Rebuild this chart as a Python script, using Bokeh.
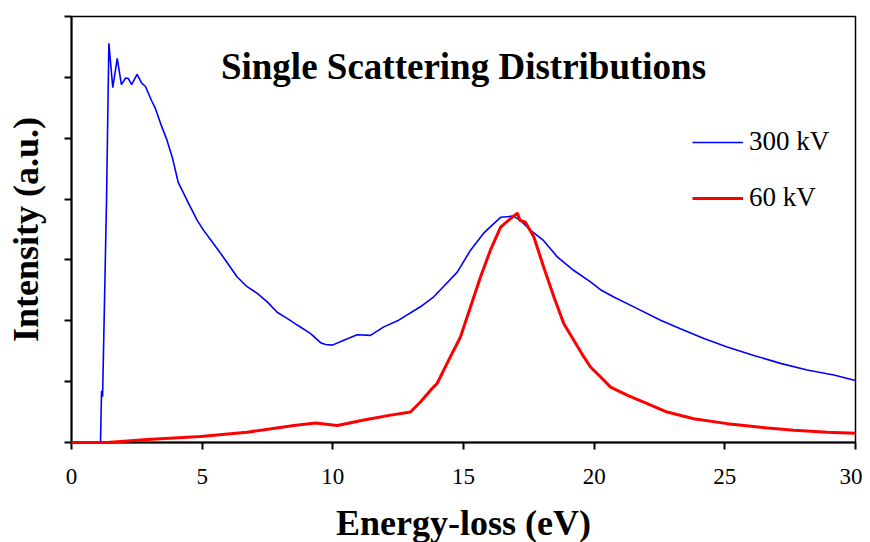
from bokeh.plotting import figure
from bokeh.models import Range1d, FixedTicker, Legend, LegendItem, Label
from bokeh.embed import file_html
from bokeh.resources import INLINE

# Energy-loss (eV) and intensity (a.u.)
energy_300 = [0.0, 1.11, 1.15, 1.19, 1.34, 1.43, 1.58, 1.75, 1.91, 2.07, 2.18, 2.30, 2.51, 2.68,
              2.83, 2.95, 3.06, 3.21, 3.41, 3.66, 3.86, 4.08, 4.48, 4.81, 5.05, 5.43, 5.77,
              6.08, 6.34, 6.72, 7.11, 7.49, 7.87, 8.25, 8.64, 9.15, 9.53, 9.72, 9.98, 10.42,
              10.93, 11.44, 11.95, 12.52, 13.35, 13.85, 14.23, 14.76, 15.27, 15.77, 16.42,
              16.91, 17.18, 17.56, 18.06, 18.59, 19.21, 19.86, 20.24, 20.75, 21.65, 22.54,
              23.30, 24.20, 25.09, 26.11, 27.13, 28.15, 29.17, 30.0]
intensity_300 = [0.0, 0.0, 0.85, 0.75, 3.98, 6.56, 5.83, 6.31, 5.88, 5.99, 5.98, 5.88, 6.05, 5.91,
                 5.85, 5.73, 5.62, 5.49, 5.24, 4.96, 4.68, 4.28, 3.93, 3.65, 3.49, 3.27, 3.07,
                 2.88, 2.72, 2.56, 2.45, 2.31, 2.14, 2.04, 1.93, 1.79, 1.64, 1.61, 1.60, 1.68,
                 1.77, 1.76, 1.90, 2.01, 2.23, 2.39, 2.56, 2.80, 3.16, 3.44, 3.70,
                 3.72, 3.65, 3.49, 3.32, 3.05, 2.83, 2.64, 2.51, 2.39, 2.20, 2.01,
                 1.87, 1.71, 1.57, 1.43, 1.30, 1.19, 1.11, 1.02]

energy_60 = [0.0, 1.37, 2.90, 4.94, 6.72, 8.51, 9.34, 10.17, 11.19, 12.21, 12.97, 13.36, 13.74,
             13.99, 14.50, 14.88, 15.27, 15.65, 16.03, 16.42, 16.80, 17.06, 17.16, 17.37,
             17.69, 18.07, 18.46, 18.84, 19.22, 19.60, 19.86, 20.24, 20.63, 21.26, 22.03,
             22.79, 23.81, 25.09, 26.37, 27.64, 28.92, 30.0]
intensity_60 = [0.0, 0.0, 0.05, 0.10, 0.17, 0.28, 0.32, 0.28, 0.37, 0.45, 0.50, 0.67, 0.86,
                0.97, 1.41, 1.73, 2.23, 2.72, 3.16, 3.54, 3.68, 3.77, 3.65, 3.62,
                3.38, 2.88, 2.39, 1.95, 1.68, 1.41, 1.24, 1.08, 0.91, 0.78, 0.64,
                0.50, 0.39, 0.31, 0.25, 0.20, 0.17, 0.15]

x_ticks = [0, 5, 10, 15, 20, 25, 30]
y_ticks = [0, 1, 2, 3, 4, 5, 6, 7]
series_labels = ["300 kV", "60 kV"]
title_text = "Single Scattering Distributions"

FONT = "Liberation Serif"

p = figure(frame_width=784, frame_height=426,
           min_border_left=71, min_border_top=16, min_border_right=7, min_border_bottom=20,
           x_range=Range1d(0, 30), y_range=Range1d(0, 7),
           output_backend="svg", toolbar_location=None,
           background_fill_color="white", border_fill_color="white")

p.xgrid.visible = False
p.ygrid.visible = False
p.outline_line_color = "black"
p.outline_line_width = 1.5

p.xaxis.ticker = FixedTicker(ticks=x_ticks)
p.yaxis.ticker = FixedTicker(ticks=y_ticks)
for ax in (p.xaxis[0], p.yaxis[0]):
    ax.axis_line_width = 2
    ax.axis_line_color = "black"
    ax.major_tick_line_width = 2
    ax.major_tick_line_color = "black"
    ax.major_tick_in = 0
    ax.major_tick_out = 7
    ax.minor_tick_line_color = None
    ax.axis_label_text_font = FONT
    ax.axis_label_text_font_style = "bold"
    ax.axis_label_text_font_size = "36px"
    ax.axis_label_text_color = "black"
    ax.major_label_text_font = FONT
    ax.major_label_text_color = "black"

p.xaxis.axis_label = "Energy-loss (eV)"
p.xaxis.major_label_text_font_size = "23px"
p.xaxis.major_label_standoff = 19
p.xaxis.axis_label_standoff = 16

p.yaxis.axis_label = "Intensity (a.u.)"
p.yaxis.major_label_text_font_size = "1px"
p.yaxis.major_label_text_color = None
p.yaxis.major_label_standoff = 0
p.yaxis.axis_label_standoff = 19

r300 = p.line(energy_300, intensity_300, line_color="#0000ff", line_width=1.6)
r60 = p.line(energy_60, intensity_60, line_color="#ff0000", line_width=3, level="overlay")

legend = Legend(items=[LegendItem(label=series_labels[0], renderers=[r300]),
                       LegendItem(label=series_labels[1], renderers=[r60])],
                location=(621, 229), glyph_width=51, glyph_height=20,
                label_height=20, spacing=25, padding=0, margin=0,
                label_standoff=6, border_line_color=None, background_fill_alpha=0,
                label_text_font=FONT, label_text_font_size="27px",
                label_text_color="black")
p.add_layout(legend, "center")

p.add_layout(Label(x=15, y=6.18, text=title_text, text_font=FONT,
                   text_font_style="bold", text_font_size="37px",
                   text_align="center", text_baseline="middle", text_color="black"))

open("out.html", "w").write(file_html(p, INLINE))
